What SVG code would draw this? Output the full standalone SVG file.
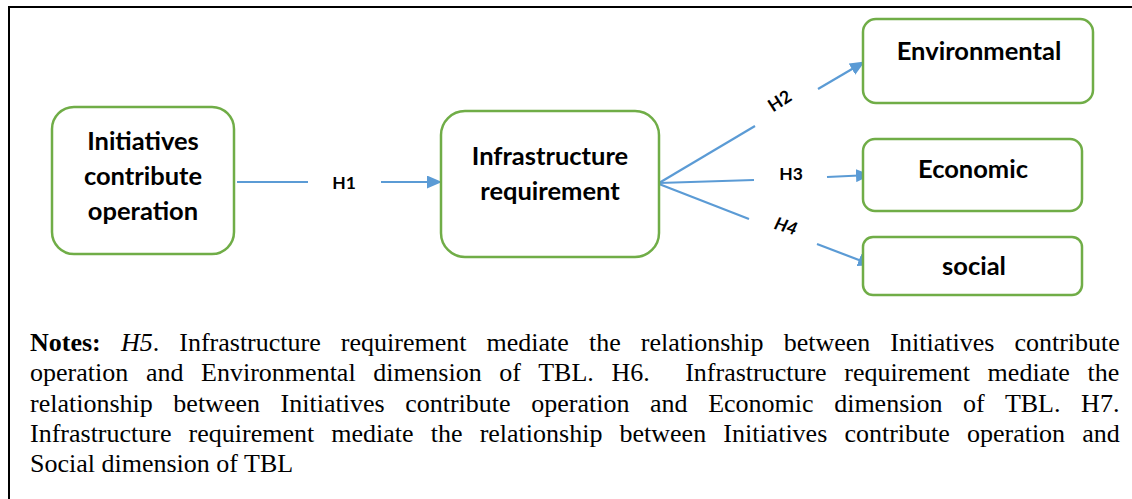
<svg xmlns="http://www.w3.org/2000/svg" width="1132" height="499" viewBox="0 0 1132 499">
<style>
.node{fill:#fff;stroke:#70AD47;stroke-width:2.5}
.lbl{font-family:Lato,"Liberation Sans",sans-serif;font-weight:bold;font-size:25.5px;fill:#000;text-anchor:middle}
.h{font-family:Lato,"Liberation Sans",sans-serif;font-weight:bold;font-size:17.5px;fill:#000;text-anchor:middle}
.edge{stroke:#5B9BD5;stroke-width:2.2;fill:none}
.note{font-family:"Liberation Serif","Times New Roman",serif;font-size:26px;fill:#000}
</style>
<defs>
<marker id="arr" markerUnits="userSpaceOnUse" markerWidth="15" markerHeight="13" refX="14" refY="6.5" orient="auto">
<path d="M0,0 L15,6.5 L0,13 Z" fill="#5B9BD5"/>
</marker>
</defs>
<rect width="1132" height="499" fill="#fff"/>
<path d="M9,499 V7 H1132" fill="none" stroke="#000" stroke-width="2"/>
<g id="connectors">
<line class="edge" x1="237" y1="182" x2="308" y2="182"/>
<line class="edge" x1="381" y1="182" x2="441" y2="182" marker-end="url(#arr)"/>
<line class="edge" x1="659" y1="183" x2="755" y2="126"/>
<line class="edge" x1="818" y1="89" x2="864" y2="62" marker-end="url(#arr)"/>
<line class="edge" x1="659" y1="183" x2="754" y2="180"/>
<line class="edge" x1="827" y1="177" x2="870" y2="175" marker-end="url(#arr)"/>
<line class="edge" x1="659" y1="184" x2="749" y2="219"/>
<line class="edge" x1="817" y1="244" x2="872" y2="265" marker-end="url(#arr)"/>
<text class="h" x="344" y="189">H1</text>
<text class="h" transform="translate(783,106) rotate(-33)">H2</text>
<text class="h" x="791" y="180">H3</text>
<text class="h" font-style="italic" transform="translate(784,232) rotate(18)">H4</text>
</g>
<g id="n-initiatives">
<rect class="node" x="52" y="107" width="182" height="147" rx="22"/>
<text class="lbl" x="143" y="150">Initiatives</text>
<text class="lbl" x="143" y="185">contribute</text>
<text class="lbl" x="143" y="220">operation</text>
</g>
<g id="n-infrastructure">
<rect class="node" x="441" y="111" width="218" height="146" rx="24"/>
<text class="lbl" x="550" y="165">Infrastructure</text>
<text class="lbl" x="550" y="200">requirement</text>
</g>
<g id="n-environmental">
<rect class="node" x="863" y="19" width="230" height="84" rx="13"/>
<text class="lbl" x="979" y="60">Environmental</text>
</g>
<g id="n-economic">
<rect class="node" x="863" y="139" width="219" height="72" rx="12"/>
<text class="lbl" x="973" y="178">Economic</text>
</g>
<g id="n-social">
<rect class="node" x="863" y="237" width="219" height="58" rx="10"/>
<text class="lbl" x="974" y="275">social</text>
</g>
<g id="notes">
<text class="note" x="30" y="351" word-spacing="13.6"><tspan font-weight="bold">Notes:</tspan> <tspan font-style="italic">H5</tspan>. Infrastructure requirement mediate the relationship between Initiatives contribute</text>
<text class="note" x="30" y="381" word-spacing="11.19" xml:space="preserve">operation and Environmental dimension of TBL. H6.  Infrastructure requirement mediate the</text>
<text class="note" x="30" y="411.5" word-spacing="14.11">relationship between Initiatives contribute operation and Economic dimension of TBL. H7.</text>
<text class="note" x="30" y="442" word-spacing="10.63">Infrastructure requirement mediate the relationship between Initiatives contribute operation and</text>
<text class="note" x="30" y="472">Social dimension of TBL</text>
</g>
</svg>
